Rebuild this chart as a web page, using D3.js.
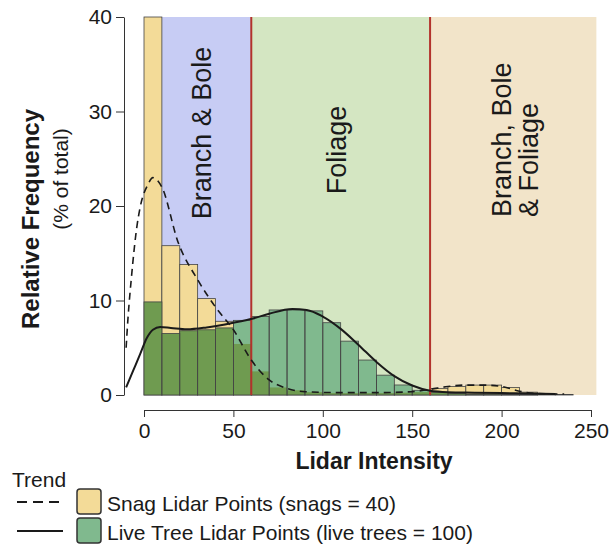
<!DOCTYPE html>
<html>
<head>
<meta charset="utf-8">
<script src="https://cdn.jsdelivr.net/npm/d3@7"></script>
<style>
  body { margin: 0; background: #fff; }
  svg text { font-family: "Liberation Sans", Arial, sans-serif; fill: #1a1a1a; }
</style>
</head>
<body>
<svg id="chart" width="610" height="547"></svg>
<script>
/*
  Lidar intensity histogram, snags vs live trees
*/

// bin start values (bins are 10 wide)
var binStarts = [0,10,20,30,40,50,60,70,80,90,100,110,120,130,140,150,160,170,180,190,200,210,220,230,240];
// % of total per bin
var snagPct = [40,15.8,13.8,10.2,7.8,5.4,2.5,0.8,0.5,0.3,0.2,0.2,0.2,0.2,0.25,0.3,0.7,0.9,1.05,1.05,0.8,0.3,0.1,0.05,0];
var livePct = [9.85,6.5,6.8,6.9,7.1,7.9,8.3,9.0,9.0,8.9,7.65,5.7,3.7,2.1,1.06,0.5,0.25,0.15,0.1,0.1,0.05,0.05,0,0,0];

// trend curves [intensity, %]
var snagTrend = [[-10,5.0],[-9,8],[-7,12.5],[-4,17.8],[-2,20],[2,22.2],[5,23],[10,22],[19,16.2],[30,12.2],[40,9.3],[50,6.9],[60,3.7],[70,1.6],[80,0.7],[90,0.35],[110,0.25],[130,0.25],[150,0.35],[160,0.6],[170,0.9],[180,1.05],[190,1.05],[200,0.9],[210,0.4],[220,0.15],[235,0.1]];
var liveTrend = [[-10,0.8],[-6,2.6],[-2,4.4],[1.5,6.0],[5,6.9],[9,7.2],[15,7.1],[24,6.95],[35,7.15],[50,7.65],[61,8.1],[70,8.6],[83,9.1],[91,9.0],[100,8.3],[110,7.0],[120,5.3],[130,3.5],[140,2.0],[150,1.0],[160,0.45],[170,0.3],[185,0.25],[200,0.2],[215,0.15],[230,0.1]];

// canopy zones
var zoneEdges = [0, 60, 160, 253];
var zoneColors = ["#c7ccf4", "#d4e6c2", "#f2e4c9"];
var zoneSplits = [60, 160];

var yTicks = [0, 10, 20, 30, 40];
var xTicks = [0, 50, 100, 150, 200, 250];

var svg = d3.select("#chart");

var x = d3.scaleLinear().domain([0, 250]).range([144, 591]);
var y = d3.scaleLinear().domain([0, 40]).range([395, 17]);

// zone backgrounds
svg.append("g").selectAll("rect")
  .data(zoneColors)
  .enter().append("rect")
    .attr("x", function(d, i) { return x(zoneEdges[i]); })
    .attr("width", function(d, i) { return x(zoneEdges[i + 1]) - x(zoneEdges[i]); })
    .attr("y", y(40))
    .attr("height", y(0) - y(40))
    .attr("fill", function(d) { return d; });

var bins = binStarts.map(function(b, i) {
  return {x0: b, x1: b + 10, snag: snagPct[i], live: livePct[i]};
});

var bars = svg.append("g");

// snag bars
bars.selectAll(".snag")
  .data(bins.filter(function(d) { return d.snag > 0; }))
  .enter().append("rect")
    .attr("class", "snag")
    .attr("x", function(d) { return x(d.x0); })
    .attr("width", function(d) { return x(d.x1) - x(d.x0); })
    .attr("y", function(d) { return y(d.snag); })
    .attr("height", function(d) { return y(0) - y(d.snag); })
    .attr("fill", "#f3db98")
    .attr("stroke", "#444")
    .attr("stroke-width", 0.8);

// live bars
bars.selectAll(".live")
  .data(bins.filter(function(d) { return d.live > 0; }))
  .enter().append("rect")
    .attr("class", "live")
    .attr("x", function(d) { return x(d.x0); })
    .attr("width", function(d) { return x(d.x1) - x(d.x0); })
    .attr("y", function(d) { return y(d.live); })
    .attr("height", function(d) { return y(0) - y(d.live); })
    .attr("fill", "#80b98e");

// where both overlap the colour goes darker
bars.selectAll(".both")
  .data(bins.filter(function(d) { return Math.min(d.snag, d.live) > 0; }))
  .enter().append("rect")
    .attr("class", "both")
    .attr("x", function(d) { return x(d.x0); })
    .attr("width", function(d) { return x(d.x1) - x(d.x0); })
    .attr("y", function(d) { return y(Math.min(d.snag, d.live)); })
    .attr("height", function(d) { return y(0) - y(Math.min(d.snag, d.live)); })
    .attr("fill", "#6f9b50");

bars.selectAll(".liveOutline")
  .data(bins.filter(function(d) { return d.live > 0; }))
  .enter().append("rect")
    .attr("x", function(d) { return x(d.x0); })
    .attr("width", function(d) { return x(d.x1) - x(d.x0); })
    .attr("y", function(d) { return y(d.live); })
    .attr("height", function(d) { return y(0) - y(d.live); })
    .attr("fill", "none")
    .attr("stroke", "#444")
    .attr("stroke-width", 0.8);

// zone borders
svg.append("g").selectAll("line")
  .data(zoneSplits)
  .enter().append("line")
    .attr("x1", function(d) { return x(d); })
    .attr("x2", function(d) { return x(d); })
    .attr("y1", y(40))
    .attr("y2", y(0))
    .attr("stroke", "#b3322b")
    .attr("stroke-width", 2);

// trends
var line = d3.line()
  .x(function(d) { return x(d[0]); })
  .y(function(d) { return y(d[1]); })
  .curve(d3.curveMonotoneX);

svg.append("path")
  .datum(snagTrend)
  .attr("d", line)
  .attr("fill", "none")
  .attr("stroke", "#1a1a1a")
  .attr("stroke-width", 1.6)
  .attr("stroke-dasharray", "7,5");

svg.append("path")
  .datum(liveTrend)
  .attr("d", line)
  .attr("fill", "none")
  .attr("stroke", "#1a1a1a")
  .attr("stroke-width", 2);

// zone labels
function vText(cx, cy, str, anchor) {
  svg.append("text")
    .attr("transform", "translate(" + cx + "," + cy + ") rotate(-90)")
    .attr("text-anchor", anchor)
    .attr("dominant-baseline", "central")
    .style("font-size", "27px")
    .text(str);
}
vText(202, 133, "Branch & Bole", "middle");
vText(337, 150, "Foliage", "middle");
vText(502, 217, "Branch, Bole", "start");
vText(529, 217, "& Foliage", "start");

// axes
var yAxis = svg.append("g")
  .attr("transform", "translate(124,0)")
  .call(d3.axisLeft(y).tickValues(yTicks).tickSize(8).tickSizeOuter(0).tickPadding(4));

var xAxis = svg.append("g")
  .attr("transform", "translate(0,410)")
  .call(d3.axisBottom(x).tickValues(xTicks).tickSize(7).tickSizeOuter(0).tickPadding(6));

[yAxis, xAxis].forEach(function(a) {
  a.select(".domain").attr("stroke", "#333");
  a.selectAll(".tick line").attr("stroke", "#333");
  a.selectAll(".tick text")
    .style("font-family", "Liberation Sans, Arial, sans-serif")
    .style("font-size", "21px")
    .attr("fill", "#1a1a1a");
});

// axis titles
svg.append("text")
  .attr("transform", "translate(30,219) rotate(-90)")
  .attr("text-anchor", "middle")
  .attr("dominant-baseline", "central")
  .style("font-size", "24px")
  .style("font-weight", "bold")
  .text("Relative Frequency");

svg.append("text")
  .attr("transform", "translate(60,179) rotate(-90)")
  .attr("text-anchor", "middle")
  .attr("dominant-baseline", "central")
  .style("font-size", "21px")
  .text("(% of total)");

svg.append("text")
  .attr("x", 374)
  .attr("y", 469)
  .attr("text-anchor", "middle")
  .style("font-size", "23px")
  .style("font-weight", "bold")
  .text("Lidar Intensity");

// legend
var legend = svg.append("g");
legend.append("text")
  .attr("x", 12).attr("y", 487)
  .style("font-size", "21px")
  .text("Trend");

var legendItems = [
  {label: "Snag Lidar Points (snags = 40)", fill: "#f3db98", dash: "10,6"},
  {label: "Live Tree Lidar Points (live trees = 100)", fill: "#80b98e", dash: null}
];

legendItems.forEach(function(d, i) {
  var top = 489 + i * 29;
  legend.append("line")
    .attr("x1", 17).attr("x2", 63)
    .attr("y1", top + 13).attr("y2", top + 13)
    .attr("stroke", "#1a1a1a")
    .attr("stroke-width", 2)
    .attr("stroke-dasharray", d.dash);
  legend.append("rect")
    .attr("x", 77).attr("y", top)
    .attr("width", 24).attr("height", 25)
    .attr("rx", 3)
    .attr("fill", d.fill)
    .attr("stroke", "#333")
    .attr("stroke-width", 1.5);
  legend.append("text")
    .attr("x", 107).attr("y", top + 22)
    .style("font-size", "21px")
    .text(d.label);
});
</script>
</body>
</html>
